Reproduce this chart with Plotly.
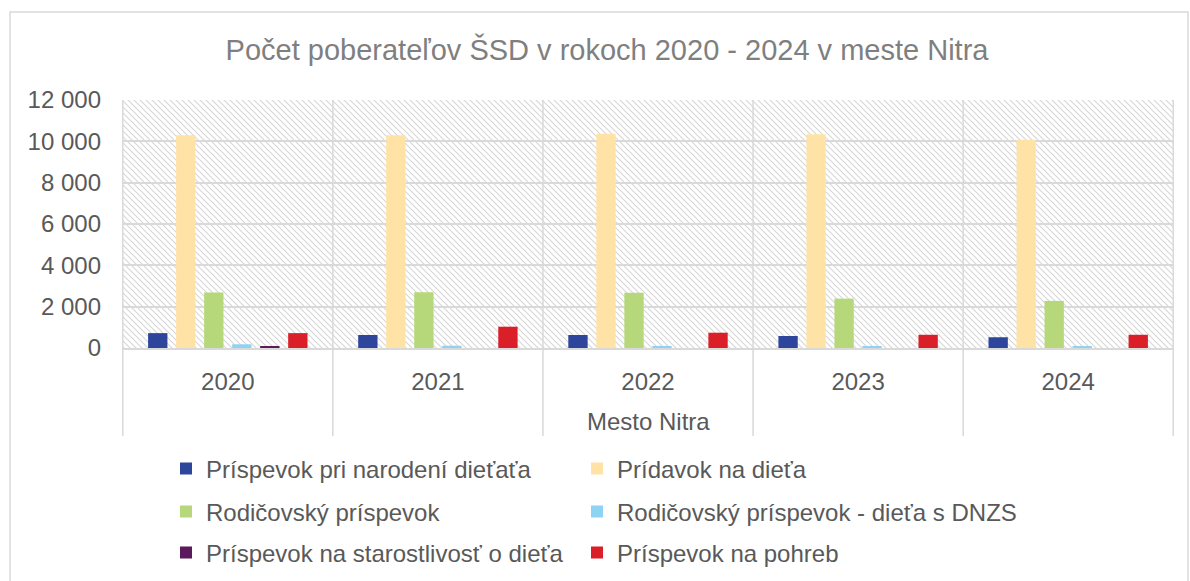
import base64
import plotly.graph_objects as go

# ---- data ----
categories = ["2020", "2021", "2022", "2023", "2024"]
series_names = [
    "Príspevok pri narodení dieťaťa",
    "Prídavok na dieťa",
    "Rodičovský príspevok",
    "Rodičovský príspevok - dieťa s DNZS",
    "Príspevok na starostlivosť o dieťa",
    "Príspevok na pohreb",
]
prispevok_narodenie = [720, 630, 630, 580, 520]
pridavok_dieta = [10290, 10300, 10370, 10340, 10080]
rodicovsky = [2690, 2700, 2670, 2390, 2280]
rodicovsky_dnzs = [180, 110, 100, 60, 80]
starostlivost = [60, 0, 0, 0, 0]
pohreb = [720, 1030, 740, 640, 640]
series_values = [prispevok_narodenie, pridavok_dieta, rodicovsky,
                 rodicovsky_dnzs, starostlivost, pohreb]
colors = ["#2E459C", "#FFE3A6", "#B6D87A", "#8ED3F4", "#5A1A5B", "#DA1F28"]
y_ticks = [0, 2000, 4000, 6000, 8000, 10000, 12000]
y_ticktext = ["0", "2 000", "4 000", "6 000", "8 000", "10 000", "12 000"]

W, H = 1190, 581
ML, MR, MT, MB = 122, 16, 100, 233
PW, PH = W - ML - MR, H - MT - MB

def px_to_paper_y(py):
    return (H - MB - py) / PH

def px_to_paper_x(px):
    return (px - ML) / PW

FONT = "Liberation Sans, Arial, sans-serif"
TXT = "#595959"
GRID = "#D9D9D9"

legend_ids = ["legend"] + [f"legend{i}" for i in range(2, 7)]
legend_cols = [166, 577]
legend_rows = [469, 512, 553]

fig = go.Figure()
for name, vals, col, lg in zip(series_names, series_values, colors, legend_ids):
    fig.add_trace(go.Bar(
        x=categories, y=vals, name=name, marker_color=col,
        marker_line_width=0, legend=lg,
    ))

# hatched plot background
svg = (
    f"<svg xmlns='http://www.w3.org/2000/svg' width='{PW}' height='{PH}'>"
    "<defs><pattern id='p' width='6' height='6' patternUnits='userSpaceOnUse'>"
    "<path d='M-1,-1 L7,7 M-1,5 L1,7 M5,-1 L7,1' stroke='#D6D6D6' stroke-width='1.1'/>"
    "</pattern></defs><rect width='100%' height='100%' fill='url(#p)'/></svg>"
)
src = "data:image/svg+xml;base64," + base64.b64encode(svg.encode()).decode()
fig.add_layout_image(dict(source=src, xref="paper", yref="paper", x=0, y=1,
                          sizex=1, sizey=1, sizing="stretch", xanchor="left",
                          yanchor="top", layer="below"))

shapes = []
# category dividers extending below the axis
for i in range(len(categories) + 1):
    shapes.append(dict(type="line", xref="x", yref="paper", x0=i - 0.5, x1=i - 0.5,
                       y0=px_to_paper_y(436), y1=1, line=dict(color=GRID, width=1.5)))
# outer chart frame
shapes.append(dict(type="rect", xref="paper", yref="paper",
                   x0=px_to_paper_x(10), x1=px_to_paper_x(1188),
                   y0=px_to_paper_y(600), y1=px_to_paper_y(12),
                   line=dict(color=GRID, width=1.5), layer="below"))

legend_layout = {}
for idx, lg in enumerate(legend_ids):
    row, colnum = divmod(idx, 2)
    legend_layout[lg] = dict(
        orientation="h", xref="container", yref="container",
        x=legend_cols[colnum] / W, xanchor="left",
        y=1 - legend_rows[row] / H, yanchor="middle",
        font=dict(family=FONT, size=24, color=TXT),
        itemwidth=30, bgcolor="rgba(0,0,0,0)")

fig.update_layout(
    width=W, height=H,
    margin=dict(l=ML, r=MR, t=MT, b=MB),
    paper_bgcolor="white", plot_bgcolor="rgba(0,0,0,0)",
    title=dict(text="Počet poberateľov ŠSD v rokoch 2020 - 2024 v meste Nitra",
               x=607 / W, xanchor="center", y=1 - 50 / H, yanchor="middle",
               font=dict(family=FONT, size=29, color="#7F7F7F")),
    barmode="group", bargap=0.2, bargroupgap=0.31,
    xaxis=dict(type="category", showgrid=False, showline=True, linecolor=GRID,
               linewidth=1.5, ticks="", ticklabelstandoff=11,
               tickfont=dict(family=FONT, size=24, color=TXT)),
    yaxis=dict(range=[0, 12000], tickvals=y_ticks, ticktext=y_ticktext,
               showgrid=True, gridcolor=GRID, gridwidth=1.5, zeroline=False,
               showline=False, ticks="", ticklabelstandoff=20,
               tickfont=dict(family=FONT, size=24, color=TXT)),
    shapes=shapes,
    annotations=[dict(text="Mesto Nitra", xref="paper", yref="paper", x=0.5,
                      y=px_to_paper_y(421), xanchor="center", yanchor="middle",
                      showarrow=False, font=dict(family=FONT, size=24, color=TXT))],
    showlegend=True,
    **legend_layout,
)

fig.write_html("out.html", config={"displayModeBar": False},
               post_script="document.body.style.margin='0';")
